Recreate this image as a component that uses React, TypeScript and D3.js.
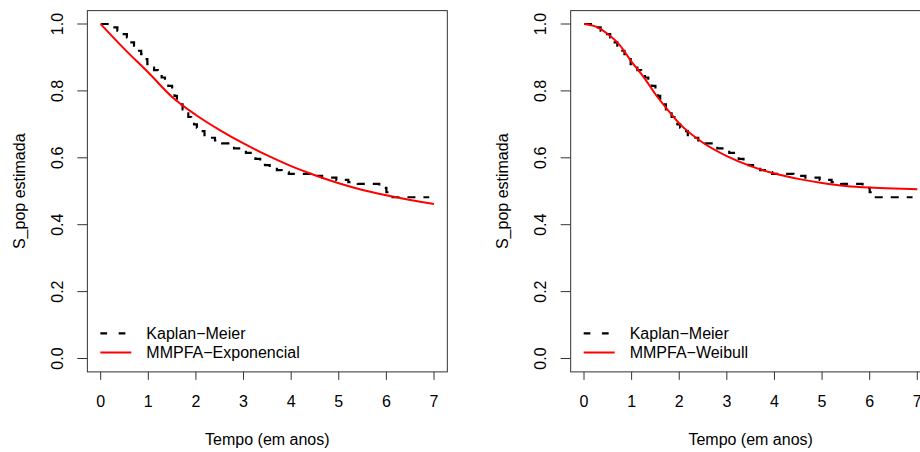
import React from "react";
import * as d3 from "d3";

// Kaplan–Meier estimate (step function)
const KM_TIME = [0, 0.25, 0.35, 0.45, 0.55, 0.62, 0.7, 0.78, 0.85, 0.92, 0.98, 1.05, 1.12, 1.2, 1.28, 1.35, 1.42, 1.5, 1.55, 1.6, 1.66, 1.72, 1.78, 1.84, 1.9, 1.96, 2.02, 2.1, 2.18, 2.28, 2.4, 2.55, 2.68, 2.8, 2.95, 3.05, 3.15, 3.25, 3.35, 3.45, 3.55, 3.7, 3.8, 3.95, 4.4, 4.65, 4.95, 5.2, 5.4, 5.85, 6.0, 6.08, 6.9];
const KM_SURV = [1, 0.99, 0.98, 0.97, 0.96, 0.945, 0.935, 0.92, 0.91, 0.895, 0.88, 0.87, 0.862, 0.855, 0.84, 0.828, 0.815, 0.8, 0.785, 0.772, 0.76, 0.745, 0.733, 0.722, 0.712, 0.7, 0.69, 0.68, 0.668, 0.66, 0.652, 0.643, 0.635, 0.628, 0.622, 0.615, 0.606, 0.597, 0.587, 0.578, 0.571, 0.563, 0.557, 0.552, 0.546, 0.541, 0.534, 0.527, 0.522, 0.51, 0.497, 0.482, 0.482];

// MMPFA–Exponencial fitted curve
const EXP_TIME = [0, 0.5, 1, 1.5, 2, 2.5, 3, 3.5, 4, 4.5, 5, 5.5, 6, 6.5, 7];
const EXP_SURV = [1.0, 0.925, 0.855, 0.782, 0.728, 0.683, 0.643, 0.607, 0.575, 0.548, 0.524, 0.504, 0.488, 0.474, 0.462];

// MMPFA–Weibull fitted curve
const WEI_TIME = [0, 0.25, 0.5, 0.75, 1, 1.25, 1.5, 1.75, 2, 2.5, 3, 3.5, 4, 4.5, 5, 5.5, 6, 6.5, 7];
const WEI_SURV = [1.0, 0.992, 0.97, 0.937, 0.887, 0.842, 0.79, 0.745, 0.703, 0.645, 0.605, 0.575, 0.553, 0.537, 0.525, 0.516, 0.511, 0.508, 0.506];

const X_TICKS = [0, 1, 2, 3, 4, 5, 6, 7];
const Y_TICKS = [0, 0.2, 0.4, 0.6, 0.8, 1.0];

const X_LABEL = "Tempo (em anos)";
const Y_LABEL = "S_pop estimada";
const KM_LABEL = "Kaplan\u2212Meier";
const LEFT_FIT_LABEL = "MMPFA\u2212Exponencial";
const RIGHT_FIT_LABEL = "MMPFA\u2212Weibull";

const FONT = "'Liberation Sans', Arial, Helvetica, sans-serif";
const FS = 16;

type PanelProps = {
  off: number;
  fitT: number[];
  fitS: number[];
  fitLabel: string;
};

function Panel({ off, fitT, fitS, fitLabel }: PanelProps) {
  const x = d3.scaleLinear().domain([0, 7]).range([100.7 + off, 434 + off]);
  const y = d3.scaleLinear().domain([0, 1]).range([358.5, 24]);

  const bx0 = x(-0.28), bx1 = x(7.28), by0 = y(1.04), by1 = y(-0.04);

  const km = KM_TIME.map((t, i) => [t, KM_SURV[i]] as [number, number]);
  const fit = fitT.map((t, i) => [t, fitS[i]] as [number, number]);

  const stepLine = d3.line<[number, number]>().x(d => x(d[0])).y(d => y(d[1])).curve(d3.curveStepAfter);
  const smoothLine = d3.line<[number, number]>().x(d => x(d[0])).y(d => y(d[1])).curve(d3.curveMonotoneX);

  const txt = (tx: number, ty: number, s: string, anchor: string, rot = false, key?: string) => (
    <text
      key={key}
      transform={`translate(${tx},${ty})${rot ? " rotate(-90)" : ""}`}
      textAnchor={anchor}
      fontFamily={FONT}
      fontSize={FS}
      fill="#000"
    >
      {s}
    </text>
  );

  const legX0 = bx0 + 13;
  const legX1 = bx0 + 44;
  const legTx = bx0 + 59;

  return (
    <g>
      <rect x={bx0} y={by0} width={bx1 - bx0} height={by1 - by0} fill="none" stroke="#333" strokeWidth={1} />
      {Y_TICKS.map(v => (
        <line key={"yt" + v} x1={bx0 - 10} x2={bx0} y1={y(v)} y2={y(v)} stroke="#333" strokeWidth={1} />
      ))}
      {X_TICKS.map(v => (
        <line key={"xt" + v} x1={x(v)} x2={x(v)} y1={by1} y2={by1 + 8} stroke="#333" strokeWidth={1} />
      ))}
      {X_TICKS.map(v => txt(x(v), 407, String(v), "middle", false, "xl" + v))}
      {Y_TICKS.map(v => txt(63 + off, y(v), v.toFixed(1), "middle", true, "yl" + v))}
      {txt((bx0 + bx1) / 2, 445, X_LABEL, "middle")}
      {txt(24.5 + off, y(0.5), Y_LABEL, "middle", true)}

      <path d={stepLine(km) || ""} fill="none" stroke="#000" strokeWidth={2.2} strokeDasharray="8,8" />
      <path d={smoothLine(fit) || ""} fill="none" stroke="#ff0000" strokeWidth={2} />

      <line x1={legX0} x2={legX1} y1={333.3} y2={333.3} stroke="#000" strokeWidth={2.2} strokeDasharray="6.7,11.6" />
      <line x1={legX0} x2={legX1} y1={352.5} y2={352.5} stroke="#ff0000" strokeWidth={2} />
      {txt(legTx, 339, KM_LABEL, "start")}
      {txt(legTx, 358.3, fitLabel, "start")}
    </g>
  );
}

export default function App() {
  return (
    <svg
      width={920}
      height={452}
      style={{ position: "absolute", left: 0, top: 0, background: "#fff" }}
    >
      <rect x={0} y={0} width={920} height={452} fill="#fff" />
      <Panel off={0} fitT={EXP_TIME} fitS={EXP_SURV} fitLabel={LEFT_FIT_LABEL} />
      <Panel off={483.3} fitT={WEI_TIME} fitS={WEI_SURV} fitLabel={RIGHT_FIT_LABEL} />
    </svg>
  );
}
